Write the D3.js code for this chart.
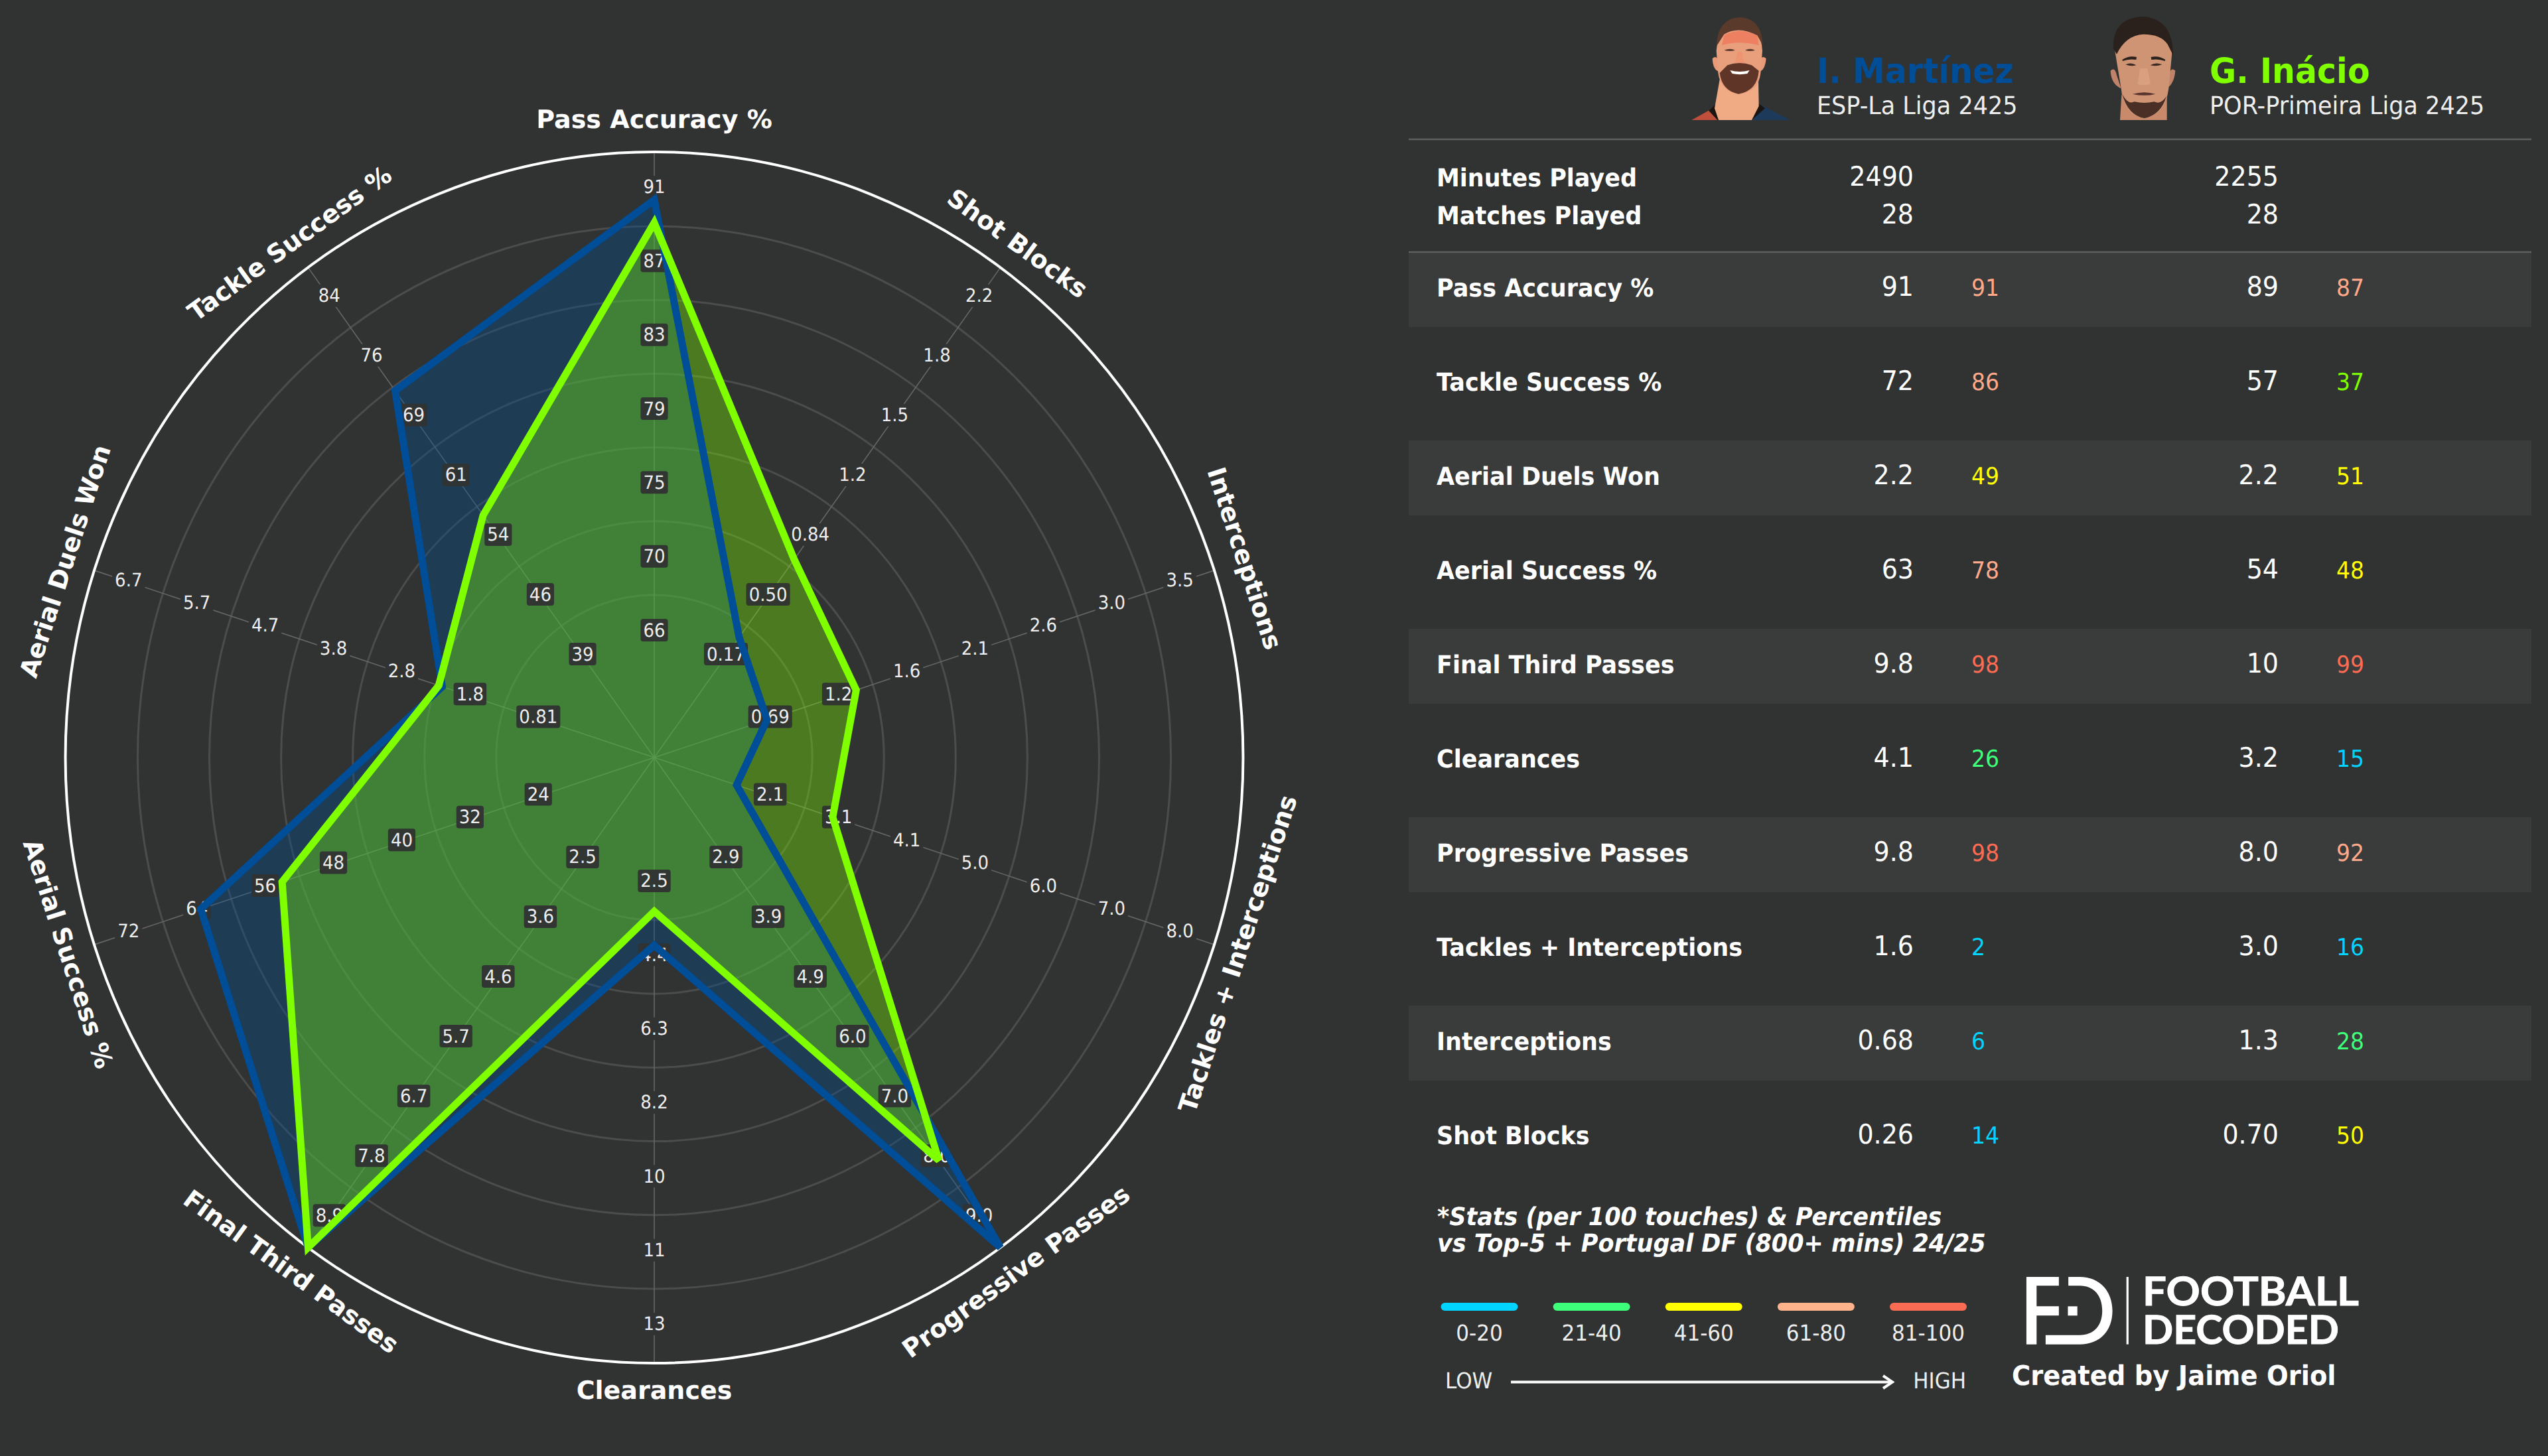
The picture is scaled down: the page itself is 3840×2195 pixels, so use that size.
<!DOCTYPE html>
<html><head><meta charset="utf-8">
<script src="https://cdn.jsdelivr.net/npm/d3@7/dist/d3.min.js"></script>
<style>
html,body{margin:0;padding:0;background:#313332;}
svg{display:block;}
text{font-family:"DejaVu Sans",sans-serif;fill:#fff;text-rendering:geometricPrecision;}
</style></head><body>
<svg id="chart" width="3840" height="2195" xmlns="http://www.w3.org/2000/svg"></svg>
<script>
// ---- data ----
const categories = ["Pass Accuracy %","Tackle Success %","Aerial Duels Won","Aerial Success %","Final Third Passes","Clearances","Progressive Passes","Tackles + Interceptions","Interceptions","Shot Blocks"];
const martinezRadar = [90.66,72.1,2.17,63.3,9.8,4.05,9.8,1.6,0.66,0.27];
const inacioRadar   = [89.35,56.5,2.22,53.8,10.2,3.19,8.0,2.98,1.27,0.71];
const axisLow  = [66.2,39,0.81,24,2.5,2.5,2.9,2.1,0.69,0.17];
const axisHigh = [91.4,84,6.7,72,8.9,13.78,9.0,8.0,3.5,2.2];
const tickLabels = [
 ["66","70","75","79","83","87","91"],
 ["39","46","54","61","69","76","84"],
 ["0.81","1.8","2.8","3.8","4.7","5.7","6.7"],
 ["24","32","40","48","56","64","72"],
 ["2.5","3.6","4.6","5.7","6.7","7.8","8.9"],
 ["2.5","4.4","6.3","8.2","10","11","13"],
 ["2.9","3.9","4.9","6.0","7.0","8.0","9.0"],
 ["2.1","3.1","4.1","5.0","6.0","7.0","8.0"],
 ["0.69","1.2","1.6","2.1","2.6","3.0","3.5"],
 ["0.17","0.50","0.84","1.2","1.5","1.8","2.2"]];
const martinezValues = ["91","72","2.2","63","9.8","4.1","9.8","1.6","0.68","0.26"];
const inacioValues   = ["89","57","2.2","54","10","3.2","8.0","3.0","1.3","0.70"];
const martinezPct = [91,86,49,78,98,26,98,2,6,14];
const inacioPct   = [87,37,51,48,99,15,92,16,28,50];
const infoLabels = ["Minutes Played","Matches Played"];
const martinezInfo = ["2490","28"];
const inacioInfo   = ["2255","28"];
const legendLabels = ["0-20","21-40","41-60","61-80","81-100"];
const legendColors = ["#00D4FF","#3DFF7A","#FFFF00","#FFB38A","#F96B52"];
const BG="#313332", BLUE="#004D98", GREEN="#7FFF00";

// ---- geometry ----
const W=3840,H=2195, cx=986, cy=1142, Ro=913, sx=0.972;
const svg=d3.select("#chart");
svg.append("rect").attr("width",W).attr("height",H).attr("fill",BG);
const n=categories.length;
const angle=d3.scaleLinear().domain([0,n]).range([0,-2*Math.PI]); // counter-clockwise from top
const tickR=d3.scaleLinear().domain([0,6]).range([191,860.6]);
const labelR=d3.scaleLinear().domain([0,6]).range([189,857]);
const ringR=d3.scaleLinear().domain([0,5]).range([245,801]);
const axisScale=categories.map((c,i)=>d3.scaleLinear().domain([axisLow[i],axisHigh[i]]).range([tickR(0),tickR(6)]));
const px=(i,r)=>cx+sx*r*Math.sin(angle(i));
const py=(i,r)=>cy-r*Math.cos(angle(i));
const radar=svg.append("g");
// rings
radar.selectAll("ellipse.ring").data(d3.range(6)).join("ellipse").attr("class","ring")
 .attr("cx",cx).attr("cy",cy).attr("rx",d=>sx*ringR(d)).attr("ry",d=>ringR(d))
 .attr("fill","none").attr("stroke","#4c4c4c").attr("stroke-width",3);
// spokes
radar.selectAll("line.spoke").data(d3.range(n)).join("line").attr("class","spoke")
 .attr("x1",cx).attr("y1",cy).attr("x2",i=>px(i,Ro)).attr("y2",i=>py(i,Ro))
 .attr("stroke","#666").attr("stroke-width",1.6);
// outer circle
radar.append("ellipse").attr("cx",cx).attr("cy",cy).attr("rx",sx*Ro).attr("ry",Ro)
 .attr("fill","none").attr("stroke","#fff").attr("stroke-width",4);
// polygons
const pts=vals=>vals.map((v,i)=>{const r=Math.min(axisScale[i](v),Ro);return [px(i,r),py(i,r)];});
const poly=d3.line().curve(d3.curveLinearClosed);
const series=[{v:martinezRadar,c:BLUE},{v:inacioRadar,c:GREEN}];
radar.selectAll("path.fill").data(series).join("path").attr("class","fill")
 .attr("d",d=>poly(pts(d.v))).attr("fill",d=>d.c).attr("fill-opacity",0.35);
// tick labels
const tg=radar.append("g");
categories.forEach((c,i)=>{
  tickLabels[i].forEach((t,k)=>{
    const g=tg.append("g").attr("transform",`translate(${px(i,labelR(k))},${py(i,labelR(k))-3})`);
    const w=t.replace(".","").length*16.6+(t.includes(".")?8.3:0)+8;
    g.append("rect").attr("x",-w/2).attr("y",-17).attr("width",w).attr("height",34).attr("rx",4).attr("fill",BG).attr("fill-opacity",0.96);
    g.append("text").attr("text-anchor","middle").attr("y",9.5).attr("font-size",26).style("fill","#eee").text(t);
  });
});
// outlines
radar.selectAll("path.line").data(series).join("path").attr("class","line")
 .attr("d",d=>poly(pts(d.v))).attr("fill","none").attr("stroke",d=>d.c).attr("stroke-width",11)
 .attr("stroke-linejoin","miter").attr("stroke-miterlimit",3);
// category labels (layout nudges in pixels, by label)
const labelDX=[0,-2,-2,2,0,0,-2,-6,4,0], labelDY=[-4,0,0,0,0,-4,0,0,-4,0];
categories.forEach((c,i)=>{
  const r=958, a=angle(i)*180/Math.PI;
  let rot=a;
  if(Math.cos(angle(i))<-0.01) rot=a+180;
  radar.append("text").attr("transform",`translate(${px(i,r)+labelDX[i]},${py(i,r)+labelDY[i]}) rotate(${rot})`)
   .attr("text-anchor","middle").attr("y",13).attr("font-size",38).attr("font-weight",700).text(c);
});

// ---- header ----
const hdr=[{n:"I. Martínez",s:"ESP-La Liga 2425",x:2738,c:BLUE},{n:"G. Inácio",s:"POR-Primeira Liga 2425",x:3330,c:GREEN}];
hdr.forEach(h=>{
  svg.append("text").attr("x",h.x).attr("y",125).attr("font-size",49).attr("font-weight",700).style("fill",h.c).text(h.n);
  svg.append("text").attr("x",h.x).attr("y",172).attr("font-size",35).style("fill","#eee").text(h.s);
});
// portrait sketches
function portrait(x0,y0,shapes){
  const g=svg.append("g").attr("transform",`translate(${x0},${y0}) scale(${1/3})`);
  shapes.forEach(s=>g.append("path").attr("d",s[0]).attr("fill",s[1]));
}
portrait(2520,10,[
 ["M88 513 L165 470 L200 440 L230 513Z","#c0503c"],
 ["M395 440 L535 513 L360 513Z","#1d3a5a"],
 ["M165 470 L210 430 L395 440 L420 460 L360 513 L205 513Z","#1a1512"],
 ["M215 330 L390 330 L392 450 L360 513 L210 513 L192 460Z","#f0ab85"],
 ["M182 235 Q200 215 212 250 L215 295 Q185 290 182 235Z","#e89a78"],
 ["M425 235 Q405 215 395 250 L392 295 Q420 290 425 235Z","#e89a78"],
 ["M200 200 Q205 95 305 90 Q405 95 408 200 L400 300 Q390 390 300 395 Q220 385 208 300Z","#e99e7c"],
 ["M235 130 Q305 90 385 130 L392 175 Q300 150 225 175Z","#ec8060"],
 ["M200 180 Q205 50 310 48 Q405 55 410 175 L385 130 Q300 85 235 125Z","#5a3a2a"],
 ["M215 300 Q225 380 300 395 Q385 380 392 290 L360 265 Q305 245 250 265Z","#5e3526"],
 ["M262 288 Q305 300 350 288 L340 303 Q305 310 272 303Z","#ffffff"],
 ["M235 197 Q262 185 285 197 Q262 205 235 197Z","#5a3a2a"],
 ["M330 197 Q352 185 375 197 Q352 205 330 197Z","#5a3a2a"],
 ["M295 205 L315 205 L325 255 L285 255Z","#ee9470"]
]);
portrait(3100,10,[
 ["M292 400 L497 400 L497 513 L285 513Z","#c98a6c"],
 ["M242 290 Q262 270 270 310 L290 370 Q245 350 242 290Z","#c08268"],
 ["M535 290 Q515 270 505 310 L495 370 Q530 350 535 290Z","#c08268"],
 ["M262 200 Q270 120 390 120 Q515 120 520 210 L505 370 Q490 490 395 505 Q300 490 290 370Z","#cf9474"],
 ["M255 190 Q250 50 390 45 Q525 55 525 220 L500 170 Q470 125 390 125 Q310 130 270 215Z","#2a201c"],
 ["M295 395 Q320 490 395 505 Q470 490 495 405 Q470 445 440 430 Q395 440 350 430 Q320 445 295 395Z","#4a2f26"],
 ["M295 240 Q325 220 360 228 L358 240 Q325 235 297 246Z","#2a201c"],
 ["M425 228 Q460 220 490 240 L488 246 Q460 235 427 240Z","#2a201c"],
 ["M310 262 Q335 250 358 265 Q335 272 310 262Z","#3a2a24"],
 ["M422 265 Q448 250 475 262 Q448 272 422 265Z","#3a2a24"],
 ["M375 280 L410 280 L422 350 Q395 360 365 350Z","#d9a080"],
 ["M342 395 Q395 380 445 395 Q395 408 342 395Z","#5a3530"]
]);
// ---- table ----
const tbl=svg.append("g");
const X0=2123,X1=3815;
const rowY=d3.scaleLinear().domain([0,1]).range([447,589]); // baseline of rows
tbl.selectAll("rect.band").data(d3.range(0,10,2)).join("rect").attr("class","band")
 .attr("x",X0).attr("y",i=>rowY(i)-67).attr("width",X1-X0).attr("height",113).attr("fill","#3a3c3b");
[[210,"#5e605f"],[380,"#5e605f"]].forEach(l=>tbl.append("line").attr("x1",X0).attr("x2",X1).attr("y1",l[0]).attr("y2",l[0]).attr("stroke",l[1]).attr("stroke-width",2.5));
const LBL=2165,V1=2884,P1=2971,V2=3434,P2=3521;
infoLabels.forEach((t,i)=>{
  const y=281+56.5*i;
  tbl.append("text").attr("x",LBL).attr("y",y).attr("font-size",35).attr("font-weight",700).text(t);
  tbl.append("text").attr("x",V1).attr("y",y-1).attr("text-anchor","end").attr("font-size",38).text(martinezInfo[i]);
  tbl.append("text").attr("x",V2).attr("y",y-1).attr("text-anchor","end").attr("font-size",38).text(inacioInfo[i]);
});
const pctColor=p=>p<=20?"#00D4FF":p<=30?"#3DFF7A":p<=40?"#7FFF00":p<=60?"#FFFF00":p<=95?"#FFA98A":"#FF6B52";
categories.forEach((c,i)=>{
  const y=rowY(i);
  tbl.append("text").attr("x",LBL).attr("y",y).attr("font-size",35).attr("font-weight",700).text(c);
  tbl.append("text").attr("x",V1).attr("y",y-1).attr("text-anchor","end").attr("font-size",38).text(martinezValues[i]);
  tbl.append("text").attr("x",V2).attr("y",y-1).attr("text-anchor","end").attr("font-size",38).text(inacioValues[i]);
  tbl.append("text").attr("x",P1).attr("y",y-1).attr("font-size",33).style("fill",pctColor(martinezPct[i])).text(martinezPct[i]);
  tbl.append("text").attr("x",P2).attr("y",y-1).attr("font-size",33).style("fill",pctColor(inacioPct[i])).text(inacioPct[i]);
});
// ---- footnote ----
["*Stats (per 100 touches) & Percentiles","vs Top-5 + Portugal DF (800+ mins) 24/25"].forEach((t,i)=>{
  svg.append("text").attr("x",2166).attr("y",1847+40*i).attr("font-size",35).attr("font-weight",700).attr("font-style","italic").text(t);
});
// ---- legend ----
const legX=d3.scaleLinear().domain([0,4]).range([2229.5,2906]);
svg.selectAll("rect.leg").data(legendColors).join("rect").attr("class","leg")
 .attr("x",(d,i)=>legX(i)-58).attr("y",1964).attr("width",116).attr("height",12).attr("rx",6).attr("fill",d=>d);
legendLabels.forEach((t,i)=>svg.append("text").attr("x",legX(i)).attr("y",2021).attr("text-anchor","middle").attr("font-size",31).style("fill","#eee").text(t));
svg.append("text").attr("x",2178).attr("y",2093).attr("font-size",31).style("fill","#eee").text("LOW");
svg.append("text").attr("x",2963).attr("y",2093).attr("text-anchor","end").attr("font-size",31).style("fill","#eee").text("HIGH");
svg.append("line").attr("x1",2277).attr("x2",2852).attr("y1",2083.5).attr("y2",2083.5).attr("stroke","#fff").attr("stroke-width",4);
svg.append("path").attr("d","M2838 2074 L2852 2083.5 L2838 2093").attr("fill","none").attr("stroke","#fff").attr("stroke-width",4);
// ---- logo ----
const lg=svg.append("g").attr("transform",`translate(3020,1900) scale(${1/2.8},${1/3})`);
[
 "M95 75 L232 75 L232 115 L138 115 L138 208 L232 208 L232 250 L138 250 L138 380 L95 380Z",
 "M272 75 L320 75 C405 75 458 140 458 228 C458 320 405 380 320 380 L176 380 L176 338 L320 338 C380 338 415 295 415 228 C415 160 380 115 320 115 L272 115Z",
 "M270 208 L310 208 L310 250 L270 250Z",
 "M517 75 L526 75 L526 380 L517 380Z"
].forEach(d=>lg.append("path").attr("d",d).attr("fill","#fff"));
[["FOOTBALL",1968,326],["DECODED",2026,296]].forEach(a=>{
  svg.append("text").attr("class","logo").attr("x",3229).attr("y",a[1]).attr("font-size",60).attr("font-weight",700)
   .attr("textLength",a[2]).attr("lengthAdjust","spacingAndGlyphs").style("font-family","Lato")
   .style("stroke","#fff").style("stroke-width",1).text(a[0]);
});
svg.append("text").attr("x",3032).attr("y",2088).attr("font-size",38.5).attr("font-weight",700).text("Created by Jaime Oriol");
// the reference's upright text is slightly taller than wide: stretch it about its baseline
const k=1.07;
svg.selectAll("text").filter(function(){return !this.hasAttribute("transform") && !this.classList.contains("logo");})
 .attr("transform",function(){const s=d3.select(this),x=+s.attr("x")||0,y=+s.attr("y")||0;return `translate(${x},${y}) scale(1,${k}) translate(${-x},${-y})`;});
</script>
</body></html>
